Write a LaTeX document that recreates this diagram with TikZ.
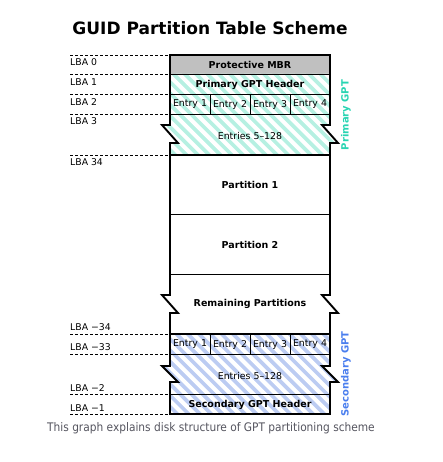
\documentclass[tikz,border=0pt]{standalone}
\usepackage{fontspec}
\setmainfont{DejaVu Sans}
\newfontfamily\capfont{DejaVu Sans Condensed}
\definecolor{teallight}{RGB}{182,240,226}
\definecolor{tealtext}{RGB}{40,212,178}
\definecolor{bluelight}{RGB}{188,204,242}
\definecolor{bluetext}{RGB}{74,126,238}
\definecolor{mbrgray}{RGB}{192,192,192}
\definecolor{capgray}{RGB}{85,85,95}
\tikzset{
  thick outline/.style={line width=1.9pt, line join=miter},
  thin rule/.style={line width=0.9pt},
  lba rule/.style={line width=0.7pt, dash pattern=on 3pt off 2pt},
  lba/.style={anchor=west, font=\fontsize{9.3}{10}\selectfont, inner sep=0pt},
  cell/.style={font=\fontsize{9.4}{10}\selectfont, inner sep=0pt},
  bcell/.style={font=\fontsize{9.5}{10}\selectfont\bfseries, inner sep=0pt},
  side/.style={rotate=90, font=\fontsize{10}{11}\selectfont\bfseries, inner sep=0pt},
  stripe/.style={white, line width=4pt}
}
\begin{document}
\begin{tikzpicture}[x=1pt, y=-1pt]
\useasboundingbox (0,0) rectangle (442,462);
% title
\node[font=\fontsize{17}{20}\selectfont\bfseries, inner sep=0pt] (title) at (210,28) {GUID Partition Table Scheme};
% MBR
\fill[mbrgray] (170,55) rectangle (330,74);
% primary hatched area
\begin{scope}
\path[clip] (170,74) -- (330,74) -- (330,125) -- (322,125) -- (338,143) -- (330,143) -- (330,155) -- (170,155) -- (170,143) -- (178,143) -- (162,125) -- (170,125) -- cycle;
\fill[teallight] (150,70) rectangle (350,160);
\foreach \i in {0,...,40} { \draw[stripe] (-140+\i*11.3,60) -- ++(120,120); }
\end{scope}
% secondary hatched area
\begin{scope}
\path[clip] (170,334) -- (330,334) -- (330,366) -- (322,366) -- (338,382) -- (330,382) -- (330,414) -- (170,414) -- (170,382) -- (178,382) -- (162,366) -- (170,366) -- cycle;
\fill[bluelight] (150,330) rectangle (350,420);
\foreach \i in {0,...,40} { \draw[stripe] (-140+\i*11.3+3,320) -- ++(120,120); }
\end{scope}
% thin rules
\foreach \y in {74,94,114,214,274,354,394} { \draw[thin rule] (170,\y) -- (330,\y); }
\foreach \x in {210,250,290} { \draw[thin rule] (\x,94) -- (\x,114); \draw[thin rule] (\x,334) -- (\x,354); }
% thick rules
\draw[thick outline] (170,155) -- (330,155);
\draw[thick outline] (170,334) -- (330,334);
% outline
\draw[thick outline] (170,55) -- (170,125) -- (162,125) -- (178,143) -- (170,143) -- (170,295) -- (162,295) -- (178,313) -- (170,313) -- (170,366) -- (162,366) -- (178,382) -- (170,382) -- (170,414) -- (330,414) -- (330,382) -- (338,382) -- (322,366) -- (330,366) -- (330,313) -- (338,313) -- (322,295) -- (330,295) -- (330,143) -- (338,143) -- (322,125) -- (330,125) -- (330,55) -- cycle;
% LBA dashed rules
\foreach \y in {55,74,94,114,155,334,354,394,414} { \draw[lba rule] (70,\y) -- (170,\y); }
% LBA labels
\node[lba] (l0) at (70,62) {LBA 0};
\node[lba] (l1) at (70,82) {LBA 1};
\node[lba] (l2) at (70,102) {LBA 2};
\node[lba] (l3) at (70,121) {LBA 3};
\node[lba] (l34) at (70,162) {LBA 34};
\node[lba] (lm34) at (70,327) {LBA −34};
\node[lba] (lm33) at (70,347) {LBA −33};
\node[lba] (lm2) at (70,388) {LBA −2};
\node[lba] (lm1) at (70,408) {LBA −1};
% cell texts
\node[bcell] (mbr) at (250,64.5) {Protective MBR};
\node[bcell] (phdr) at (250,85) {Primary GPT Header};
\node[cell] (pe1) at (190,104.5) {Entry 1};
\node[cell] (pe2) at (230,104.5) {Entry 2};
\node[cell] (pe3) at (270,104.5) {Entry 3};
\node[cell] (pe4) at (310,104.5) {Entry 4};
\node[cell] (pent) at (250,135.5) {Entries 5–128};
\node[bcell] (part1) at (250,185) {Partition 1};
\node[bcell] (part2) at (250,245) {Partition 2};
\node[bcell] (rem) at (250,303.5) {Remaining Partitions};
\node[cell] (se1) at (190,344.5) {Entry 1};
\node[cell] (se2) at (230,344.5) {Entry 2};
\node[cell] (se3) at (270,344.5) {Entry 3};
\node[cell] (se4) at (310,344.5) {Entry 4};
\node[cell] (sent) at (250,375.5) {Entries 5–128};
\node[bcell] (shdr) at (250,405) {Secondary GPT Header};
% side labels
\node[side, text=tealtext] (pgpt) at (346,115) {Primary GPT};
\node[side, text=bluetext] (sgpt) at (346,374) {Secondary GPT};
% caption
\node[font=\capfont\fontsize{11.8}{13}\selectfont, text=capgray, inner sep=0pt] (cap) at (211,428) {This graph explains disk structure of GPT partitioning scheme};
\end{tikzpicture}
\end{document}
